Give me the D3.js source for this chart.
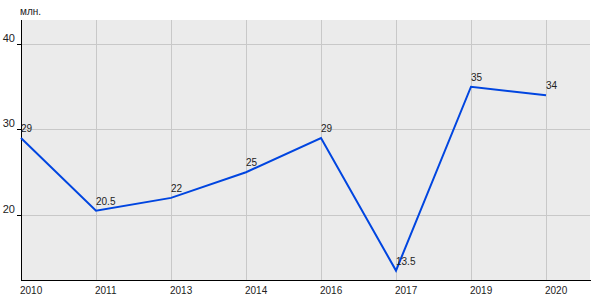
<!DOCTYPE html>
<html>
<head>
<meta charset="utf-8">
<script src="https://cdn.jsdelivr.net/npm/d3@7"></script>
<style>
  body { margin: 0; background: #fff; }
  text { font-family: "Liberation Sans", Arial, sans-serif; fill: #222; }
</style>
</head>
<body>
<div id="chart"></div>
<script>
// data ========================================================================
var years = ["2010", "2011", "2013", "2014", "2016", "2017", "2019", "2020"];
var values = [29, 20.5, 22, 25, 29, 13.5, 35, 34];
var labels = ["29", "20.5", "22", "25", "29", "13.5", "35", "34"];
var yTicks = [20, 30, 40];
var unitLabel = "млн.";

// sizes =======================================================================
var width = 600, height = 300;
var _margin = { top: 20, right: 10, bottom: 20, left: 21 };
var plotW = width - _margin.left - _margin.right,
    plotH = height - _margin.top - _margin.bottom;

var svg = d3.select("#chart").append("svg")
    .attr("width", width)
    .attr("height", height);

var g = svg.append("g")
    .attr("transform", "translate(" + _margin.left + "," + _margin.top + ")");

var x = d3.scalePoint()
    .domain(years)
    .range([0, 525]);

var y = d3.scaleLinear()
    .domain([12.4, 42.8])
    .range([plotH, 0]);

// panel background
g.append("rect")
    .attr("width", plotW)
    .attr("height", plotH)
    .attr("fill", "#ebebeb");

// grid
g.selectAll("line.vgrid").data(years).enter().append("line")
    .attr("class", "vgrid")
    .attr("x1", function (d) { return Math.round(x(d)) + 0.5; })
    .attr("x2", function (d) { return Math.round(x(d)) + 0.5; })
    .attr("y1", 0).attr("y2", plotH)
    .attr("stroke", "#c8c8c8");

g.selectAll("line.hgrid").data(yTicks).enter().append("line")
    .attr("class", "hgrid")
    .attr("x1", 0).attr("x2", plotW)
    .attr("y1", function (d) { return Math.round(y(d)) + 0.5; })
    .attr("y2", function (d) { return Math.round(y(d)) + 0.5; })
    .attr("stroke", "#c8c8c8");

// y axis
g.append("line")
    .attr("x1", 0.5).attr("x2", 0.5)
    .attr("y1", 0).attr("y2", plotH)
    .attr("stroke", "#000");
g.selectAll("line.ytick").data(yTicks).enter().append("line")
    .attr("class", "ytick")
    .attr("x1", -4).attr("x2", 0)
    .attr("y1", function (d) { return Math.round(y(d)) + 0.5; })
    .attr("y2", function (d) { return Math.round(y(d)) + 0.5; })
    .attr("stroke", "#000");
g.selectAll("text.ylab").data(yTicks).enter().append("text")
    .attr("class", "ylab")
    .attr("x", -6)
    .attr("y", function (d) { return y(d) - 2; })
    .attr("text-anchor", "end")
    .style("font-size", "11px")
    .text(function (d) { return d; });

// x axis
g.append("line")
    .attr("x1", 0).attr("x2", plotW + 1)
    .attr("y1", plotH + 0.5).attr("y2", plotH + 0.5)
    .attr("stroke", "#000");
g.selectAll("text.xlab").data(years).enter().append("text")
    .attr("class", "xlab")
    .attr("x", function (d) { return x(d) - 1; })
    .attr("y", plotH + 14)
    .style("font-size", "10px")
    .text(function (d) { return d; });

// unit label
svg.append("text")
    .attr("x", 20)
    .attr("y", 15)
    .style("font-size", "10px")
    .text(unitLabel);

// line
var line = d3.line()
    .x(function (d, i) { return x(years[i]); })
    .y(function (d) { return y(d); });

g.append("path")
    .datum(values)
    .attr("fill", "none")
    .attr("stroke", "#0045e0")
    .attr("stroke-width", 2)
    .attr("d", line);

// point labels
g.selectAll("text.vlab").data(values).enter().append("text")
    .attr("class", "vlab")
    .attr("x", function (d, i) { return x(years[i]); })
    .attr("y", function (d) { return y(d) - 6; })
    .style("font-size", "10px")
    .text(function (d, i) { return labels[i]; });
</script>
</body>
</html>
